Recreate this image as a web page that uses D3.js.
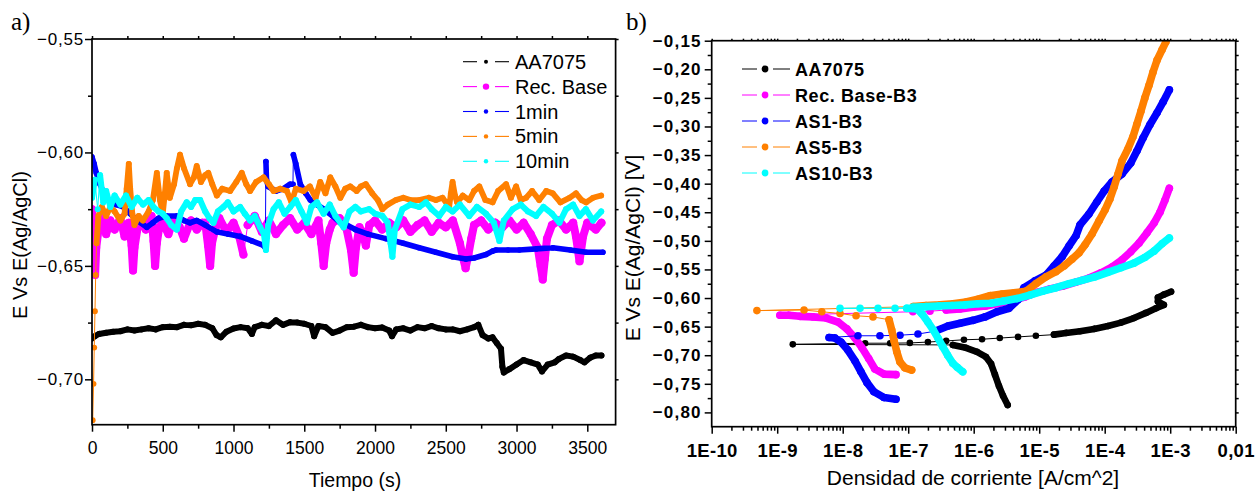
<!DOCTYPE html>
<html>
<head>
<meta charset="utf-8">
<title>OCP y curvas de polarización</title>
<script src="https://d3js.org/d3.v7.min.js"></script>
<style>
  body {margin: 0; background: #fff;}
</style>
</head>
<body>
<script>
// a) potencial vs tiempo : [t (s), E (V)]
var ocpAA7075 = [[0,-0.682],[20,-0.681],[50,-0.680],[100,-0.6795],[150,-0.679],[200,-0.6788],[250,-0.678],[300,-0.6785],[350,-0.678],[400,-0.6775],[450,-0.678],[500,-0.677],[550,-0.6768],[600,-0.677],[650,-0.676],[700,-0.6762],[750,-0.6755],[800,-0.676],[850,-0.6775],[880,-0.6805],[910,-0.6815],[950,-0.679],[1000,-0.6776],[1050,-0.677],[1100,-0.6775],[1130,-0.680],[1150,-0.677],[1200,-0.676],[1250,-0.6765],[1300,-0.674],[1350,-0.676],[1400,-0.6748],[1450,-0.675],[1500,-0.6755],[1550,-0.6765],[1570,-0.681],[1600,-0.6765],[1650,-0.677],[1700,-0.6795],[1750,-0.6785],[1800,-0.677],[1850,-0.6768],[1900,-0.676],[1950,-0.677],[2000,-0.6775],[2050,-0.6772],[2100,-0.6785],[2120,-0.681],[2150,-0.678],[2200,-0.6775],[2250,-0.6785],[2300,-0.677],[2350,-0.6775],[2400,-0.6765],[2450,-0.6775],[2500,-0.678],[2550,-0.678],[2600,-0.6788],[2650,-0.678],[2700,-0.677],[2730,-0.676],[2760,-0.6805],[2800,-0.682],[2830,-0.6815],[2860,-0.684],[2890,-0.6865],[2900,-0.6945],[2910,-0.697],[2950,-0.6955],[3000,-0.6935],[3050,-0.6915],[3100,-0.6925],[3150,-0.6935],[3180,-0.6965],[3220,-0.6935],[3270,-0.6925],[3300,-0.691],[3350,-0.6895],[3400,-0.690],[3450,-0.6915],[3480,-0.6925],[3520,-0.6905],[3560,-0.6895],[3600,-0.6895]];
var ocpRecBase = [[0,-0.625],[8,-0.636],[15,-0.646],[22,-0.654],[30,-0.642],[50,-0.632],[80,-0.628],[100,-0.636],[130,-0.630],[160,-0.634],[200,-0.629],[230,-0.637],[260,-0.631],[280,-0.641],[290,-0.652],[300,-0.642],[320,-0.634],[350,-0.630],[380,-0.634],[420,-0.628],[435,-0.639],[446,-0.650],[458,-0.640],[475,-0.633],[500,-0.631],[540,-0.636],[580,-0.629],[620,-0.633],[650,-0.638],[700,-0.630],[740,-0.634],[780,-0.631],[800,-0.631],[820,-0.641],[835,-0.650],[848,-0.640],[870,-0.634],[900,-0.629],[950,-0.635],[1000,-0.631],[1040,-0.637],[1070,-0.645],[1100,-0.632],[1150,-0.628],[1200,-0.635],[1250,-0.630],[1300,-0.636],[1350,-0.632],[1400,-0.629],[1450,-0.634],[1500,-0.631],[1550,-0.636],[1600,-0.630],[1620,-0.640],[1637,-0.650],[1655,-0.640],[1680,-0.634],[1700,-0.631],[1750,-0.629],[1800,-0.634],[1830,-0.643],[1849,-0.653],[1865,-0.642],[1890,-0.633],[1910,-0.635],[1935,-0.641],[1960,-0.632],[2000,-0.630],[2050,-0.634],[2100,-0.631],[2150,-0.633],[2200,-0.630],[2250,-0.635],[2300,-0.632],[2350,-0.630],[2400,-0.635],[2450,-0.631],[2500,-0.633],[2550,-0.630],[2600,-0.640],[2620,-0.646],[2640,-0.651],[2660,-0.645],[2680,-0.638],[2700,-0.632],[2750,-0.630],[2800,-0.634],[2850,-0.631],[2900,-0.633],[2950,-0.630],[3000,-0.634],[3050,-0.631],[3100,-0.636],[3150,-0.642],[3170,-0.650],[3185,-0.656],[3200,-0.647],[3215,-0.638],[3250,-0.632],[3300,-0.630],[3350,-0.634],[3400,-0.631],[3420,-0.637],[3445,-0.648],[3470,-0.637],[3500,-0.631],[3560,-0.634],[3600,-0.631]];
var ocp1min = [[0,-0.602],[15,-0.605],[30,-0.609],[57,-0.614],[90,-0.619],[127,-0.622],[170,-0.623],[222,-0.624],[270,-0.627],[320,-0.630],[387,-0.633],[430,-0.631],[470,-0.629],[528,-0.628],[599,-0.628],[650,-0.630],[693,-0.631],[740,-0.630],[800,-0.632],[882,-0.635],[960,-0.636],[1047,-0.637],[1130,-0.639],[1212,-0.641],[1225,-0.642],[1229,-0.604],[1233,-0.612],[1245,-0.615],[1300,-0.617],[1350,-0.616],[1400,-0.614],[1420,-0.614],[1423,-0.601],[1440,-0.605],[1472,-0.614],[1510,-0.618],[1543,-0.621],[1590,-0.623],[1637,-0.625],[1700,-0.628],[1755,-0.631],[1800,-0.632],[1861,-0.634],[1950,-0.636],[2076,-0.638],[2200,-0.640],[2312,-0.642],[2430,-0.644],[2548,-0.646],[2642,-0.647],[2700,-0.6465],[2784,-0.645],[2830,-0.6435],[2855,-0.643],[2940,-0.643],[3020,-0.643],[3140,-0.6425],[3256,-0.642],[3380,-0.643],[3492,-0.644],[3610,-0.644]];
var ocp5min = [[5,-0.718],[11,-0.702],[16,-0.686],[21,-0.670],[26,-0.654],[32,-0.640],[45,-0.628],[70,-0.624],[100,-0.628],[130,-0.624],[160,-0.626],[200,-0.630],[230,-0.627],[245,-0.616],[260,-0.605],[270,-0.616],[285,-0.627],[300,-0.632],[330,-0.628],[360,-0.630],[400,-0.626],[430,-0.621],[458,-0.609],[480,-0.621],[500,-0.627],[515,-0.618],[528,-0.609],[550,-0.620],[580,-0.614],[600,-0.607],[622,-0.601],[650,-0.607],[693,-0.614],[720,-0.611],[740,-0.606],[770,-0.613],[800,-0.610],[822,-0.609],[850,-0.614],[882,-0.619],[920,-0.616],[976,-0.617],[1020,-0.613],[1058,-0.609],[1090,-0.614],[1117,-0.617],[1160,-0.613],[1212,-0.611],[1250,-0.614],[1283,-0.617],[1330,-0.616],[1377,-0.617],[1410,-0.622],[1440,-0.616],[1495,-0.617],[1540,-0.615],[1580,-0.620],[1613,-0.613],[1650,-0.618],[1684,-0.611],[1720,-0.615],[1755,-0.620],[1790,-0.616],[1825,-0.615],[1870,-0.617],[1900,-0.615],[1935,-0.614],[1980,-0.618],[2020,-0.621],[2052,-0.625],[2090,-0.623],[2147,-0.621],[2200,-0.620],[2250,-0.621],[2312,-0.621],[2380,-0.620],[2430,-0.621],[2477,-0.620],[2524,-0.624],[2536,-0.618],[2548,-0.613],[2565,-0.619],[2580,-0.622],[2620,-0.619],[2666,-0.621],[2700,-0.617],[2737,-0.615],[2780,-0.621],[2831,-0.622],[2870,-0.617],[2926,-0.614],[2960,-0.620],[2997,-0.615],[3030,-0.621],[3067,-0.620],[3110,-0.617],[3160,-0.621],[3210,-0.617],[3256,-0.618],[3310,-0.622],[3374,-0.620],[3420,-0.618],[3460,-0.621],[3492,-0.622],[3540,-0.620],[3598,-0.619]];
var ocp10min = [[0,-0.620],[20,-0.612],[40,-0.625],[57,-0.610],[80,-0.622],[100,-0.617],[130,-0.624],[160,-0.619],[200,-0.623],[240,-0.619],[280,-0.624],[320,-0.620],[360,-0.623],[400,-0.621],[434,-0.624],[470,-0.626],[500,-0.627],[528,-0.629],[560,-0.632],[599,-0.634],[630,-0.626],[669,-0.622],[700,-0.624],[730,-0.621],[764,-0.621],[800,-0.626],[830,-0.629],[858,-0.631],[890,-0.626],[929,-0.624],[960,-0.622],[1000,-0.626],[1047,-0.624],[1080,-0.627],[1117,-0.630],[1150,-0.628],[1188,-0.633],[1215,-0.636],[1229,-0.643],[1245,-0.632],[1283,-0.625],[1320,-0.622],[1360,-0.627],[1401,-0.624],[1440,-0.621],[1480,-0.626],[1519,-0.631],[1550,-0.624],[1590,-0.622],[1637,-0.627],[1680,-0.623],[1720,-0.628],[1778,-0.633],[1820,-0.626],[1861,-0.624],[1900,-0.626],[1958,-0.625],[2000,-0.627],[2052,-0.628],[2090,-0.631],[2110,-0.640],[2123,-0.646],[2140,-0.634],[2194,-0.625],[2250,-0.623],[2312,-0.624],[2360,-0.622],[2400,-0.625],[2454,-0.628],[2500,-0.624],[2548,-0.626],[2600,-0.623],[2666,-0.628],[2720,-0.624],[2784,-0.627],[2840,-0.631],[2879,-0.639],[2910,-0.630],[2973,-0.625],[3030,-0.623],[3080,-0.626],[3138,-0.628],[3190,-0.624],[3250,-0.627],[3303,-0.631],[3350,-0.625],[3400,-0.623],[3445,-0.628],[3490,-0.625],[3540,-0.630],[3598,-0.626]];

// b) curvas de polarización : [i (A/cm^2), E (V)]
var polAA7075 = [[3.3e-6,-0.787],[2.8e-6,-0.771],[2.43e-6,-0.754],[2.11e-6,-0.734],[1.84e-6,-0.715],[1.54e-6,-0.703],[1.12e-6,-0.694],[7.6e-7,-0.687],[4.8e-7,-0.682],[1.73e-9,-0.681],[2.2e-8,-0.679],[5.3e-8,-0.679],[1.06e-7,-0.6785],[2.0e-7,-0.677],[3.8e-7,-0.675],[7.1e-7,-0.673],[1.34e-6,-0.672],[2.5e-6,-0.670],[4.75e-6,-0.668],[8.9e-6,-0.666],[1.68e-5,-0.664],[2.57e-5,-0.661],[4.2e-5,-0.658],[6.9e-5,-0.654],[1.12e-4,-0.649],[1.77e-4,-0.643],[2.8e-4,-0.635],[4.27e-4,-0.626],[6.07e-4,-0.618],[8.0e-4,-0.612],[6.5e-4,-0.606],[6.5e-4,-0.599],[8.0e-4,-0.594],[1.03e-3,-0.589]];
var polRecBase = [[6.5e-8,-0.734],[4.27e-8,-0.733],[3.1e-8,-0.724],[2.5e-8,-0.706],[1.97e-8,-0.687],[1.54e-8,-0.670],[1.16e-8,-0.654],[8.5e-9,-0.642],[5.6e-9,-0.635],[3.5e-9,-0.633],[2.23e-9,-0.632],[1.51e-9,-0.630],[1.1e-9,-0.630],[1.18e-7,-0.624],[2.15e-7,-0.623],[3.8e-7,-0.621],[6.2e-7,-0.619],[9.8e-7,-0.616],[1.54e-6,-0.614],[2.43e-6,-0.609],[3.85e-6,-0.605],[6.07e-6,-0.598],[9.25e-6,-0.590],[1.46e-5,-0.584],[2.31e-5,-0.579],[3.65e-5,-0.572],[5.75e-5,-0.565],[8.8e-5,-0.556],[1.29e-4,-0.546],[1.84e-4,-0.533],[2.5e-4,-0.519],[3.34e-4,-0.504],[4.42e-4,-0.486],[5.66e-4,-0.469],[6.98e-4,-0.450],[8.3e-4,-0.429],[9.7e-4,-0.408]];
var polAS1 = [[6.5e-8,-0.777],[4.27e-8,-0.774],[3.0e-8,-0.764],[2.35e-8,-0.748],[1.9e-8,-0.729],[1.54e-8,-0.710],[1.2e-8,-0.691],[9.4e-9,-0.677],[7.6e-9,-0.670],[6.2e-9,-0.669],[1.71e-8,-0.666],[3.7e-8,-0.666],[7.5e-8,-0.665],[1.41e-7,-0.663],[2.57e-7,-0.658],[4.05e-7,-0.649],[6.2e-7,-0.644],[9.8e-7,-0.639],[1.49e-6,-0.633],[2.27e-6,-0.624],[3.46e-6,-0.618],[4.75e-6,-0.603],[5.86e-6,-0.582],[8.6e-6,-0.570],[1.27e-5,-0.560],[1.68e-5,-0.544],[2.23e-5,-0.528],[2.85e-5,-0.509],[3.65e-5,-0.491],[4.2e-5,-0.472],[5.75e-5,-0.453],[7.6e-5,-0.432],[9.8e-5,-0.413],[1.29e-4,-0.397],[1.84e-4,-0.383],[2.5e-4,-0.364],[3.1e-4,-0.343],[3.85e-4,-0.320],[4.9e-4,-0.297],[6.3e-4,-0.276],[7.8e-4,-0.257],[9.7e-4,-0.236]];
var polAS5 = [[1.13e-7,-0.726],[8.9e-8,-0.722],[7.5e-8,-0.712],[6.7e-8,-0.694],[6.1e-8,-0.675],[5.6e-8,-0.656],[5.1e-8,-0.638],[2.9e-8,-0.633],[1.6e-8,-0.631],[9.1e-9,-0.627],[4.8e-9,-0.624],[2.57e-9,-0.621],[4.9e-10,-0.622],[1.2e-7,-0.615],[1.87e-7,-0.613],[3.06e-7,-0.612],[4.8e-7,-0.610],[7.6e-7,-0.607],[1.16e-6,-0.602],[1.77e-6,-0.596],[2.7e-6,-0.593],[4.1e-6,-0.591],[6.3e-6,-0.588],[8.9e-6,-0.575],[1.27e-5,-0.563],[1.8e-5,-0.554],[2.39e-5,-0.544],[3.17e-5,-0.532],[4.05e-5,-0.521],[5.0e-5,-0.507],[6.4e-5,-0.488],[8.2e-5,-0.465],[1.01e-4,-0.446],[1.2e-4,-0.427],[1.39e-4,-0.406],[1.6e-4,-0.383],[1.84e-4,-0.360],[2.27e-4,-0.339],[2.7e-4,-0.318],[3.1e-4,-0.296],[3.58e-4,-0.273],[4.1e-4,-0.250],[4.75e-4,-0.228],[5.46e-4,-0.205],[6.3e-4,-0.184],[7.5e-4,-0.166],[8.6e-4,-0.152]];
var polAS10 = [[6.8e-7,-0.729],[5.6e-7,-0.721],[4.8e-7,-0.714],[4.0e-7,-0.700],[3.36e-7,-0.685],[2.85e-7,-0.670],[2.42e-7,-0.656],[2.0e-7,-0.642],[1.63e-7,-0.628],[1.36e-7,-0.619],[9.5e-8,-0.618],[9.1e-9,-0.618],[1.84e-8,-0.618],[3.46e-8,-0.618],[6.3e-8,-0.618],[1.18e-7,-0.616],[1.87e-7,-0.615],[2.95e-7,-0.614],[4.67e-7,-0.613],[7.4e-7,-0.612],[1.16e-6,-0.610],[1.84e-6,-0.609],[2.9e-6,-0.605],[4.58e-6,-0.601],[7.2e-6,-0.595],[1.14e-5,-0.588],[1.8e-5,-0.582],[2.85e-5,-0.575],[4.5e-5,-0.569],[7.1e-5,-0.563],[1.12e-4,-0.555],[1.77e-4,-0.547],[2.8e-4,-0.539],[4.1e-4,-0.529],[5.66e-4,-0.518],[7.5e-4,-0.505],[9.7e-4,-0.495]];

var namesA = ["AA7075", "Rec. Base", "1min", "5min", "10min"];
var namesB = ["AA7075", "Rec. Base-B3", "AS1-B3", "AS5-B3", "AS10-B3"];
var colors = ["#000000", "#ff00ff", "#0000ff", "#ff8000", "#00ffff"];

var ticksTime = [0, 500, 1000, 1500, 2000, 2500, 3000, 3500];
var ticksTimeMinor = [250, 750, 1250, 1750, 2250, 2750, 3250];
var ticksEa = [-0.70, -0.65, -0.60, -0.55];
var ticksEaMinor = [-0.675, -0.625, -0.575];
var ticksI = [1e-10, 1e-9, 1e-8, 1e-7, 1e-6, 1e-5, 1e-4, 1e-3, 1e-2];
var labelsI = ["1E-10", "1E-9", "1E-8", "1E-7", "1E-6", "1E-5", "1E-4", "1E-3", "0,01"];
var ticksEb = [-0.80, -0.75, -0.70, -0.65, -0.60, -0.55, -0.50, -0.45, -0.40, -0.35, -0.30, -0.25, -0.20, -0.15];
var ticksEbMinor = [-0.775, -0.725, -0.675, -0.625, -0.575, -0.525, -0.475, -0.425, -0.375, -0.325, -0.275, -0.225, -0.175];

var sans = "'Liberation Sans', Arial, sans-serif";
var serif = "'Liberation Serif', 'Times New Roman', serif";

var svg = d3.select("body").append("svg")
    .attr("width", 1256)
    .attr("height", 493)
    .attr("font-family", sans);

var fmtE = function(d) { return d.toFixed(2).replace(".", ",").replace("-", "\u2212"); };

// dibuja una serie: tramos densos como trazo grueso, saltos como línea fina
function drawSeries(g, pts, xs, ys, color, r, gap) {
    var thick = "", thin = "";
    for (var k = 1; k < pts.length; k++) {
        var x0 = xs(pts[k-1][0]), y0 = ys(pts[k-1][1]);
        var x1 = xs(pts[k][0]), y1 = ys(pts[k][1]);
        var seg = "M" + x0 + "," + y0 + "L" + x1 + "," + y1;
        if (Math.hypot(x1 - x0, y1 - y0) < gap) thick += seg; else thin += seg;
    }
    g.append("path").attr("d", thin).attr("fill", "none")
        .attr("stroke", color).attr("stroke-width", 1);
    g.append("path").attr("d", thick).attr("fill", "none")
        .attr("stroke", color).attr("stroke-width", 2 * r)
        .attr("stroke-linecap", "round").attr("stroke-linejoin", "round");
    g.selectAll(null).data(pts).enter().append("circle")
        .attr("cx", function(d) { return xs(d[0]); })
        .attr("cy", function(d) { return ys(d[1]); })
        .attr("r", r)
        .attr("fill", color);
}

function axisStyle(sel, size, weight, spacing) {
    sel.attr("font-family", sans).attr("font-size", size);
    sel.select(".domain").remove();
    sel.selectAll(".tick line").attr("stroke", "#000").attr("stroke-width", 1.5);
    sel.selectAll(".tick text").attr("fill", "#000")
        .attr("font-weight", weight).attr("letter-spacing", spacing);
}

function frame(x0, y0, x1, y1) {
    svg.append("rect")
        .attr("x", x0).attr("y", y0)
        .attr("width", x1 - x0).attr("height", y1 - y0)
        .attr("fill", "none").attr("stroke", "#000").attr("stroke-width", 1.7);
}

// ---------------- a) ----------------
var xa = d3.scaleLinear().domain([0, 3700]).range([92, 615.6]);
var ya = d3.scaleLinear().domain([-0.72, -0.55]).range([424.7, 39]);

svg.append("clipPath").attr("id", "clipA").append("rect")
    .attr("x", 92).attr("y", 39).attr("width", 523.6).attr("height", 385.7);

var seriesA = [ocpAA7075, ocpRecBase, ocp1min, ocp5min, ocp10min];
var radiusA = [3.0, 4.0, 2.8, 2.9, 3.0];
var plotA = svg.append("g").attr("clip-path", "url(#clipA)");
seriesA.forEach(function(s, i) {
    drawSeries(plotA.append("g"), s, xa, ya, colors[i], radiusA[i], 28);
});

svg.append("g").attr("transform", "translate(0,424.7)")
    .call(d3.axisBottom(xa).tickValues(ticksTime).tickSize(7).tickPadding(10)
        .tickFormat(d3.format("d")).tickSizeOuter(0))
    .call(axisStyle, 17.5, "normal", 0);
svg.append("g").attr("transform", "translate(0,424.7)")
    .call(d3.axisBottom(xa).tickValues(ticksTimeMinor).tickSize(4).tickFormat("").tickSizeOuter(0))
    .call(axisStyle, 10, "normal", 0);
svg.append("g").attr("transform", "translate(92,0)")
    .call(d3.axisLeft(ya).tickValues(ticksEa).tickSize(7).tickPadding(1).tickFormat(fmtE).tickSizeOuter(0))
    .call(axisStyle, 17, "normal", 0.8);
svg.append("g").attr("transform", "translate(92,0)")
    .call(d3.axisLeft(ya).tickValues(ticksEaMinor).tickSize(4).tickFormat("").tickSizeOuter(0))
    .call(axisStyle, 10, "normal", 0);
svg.append("g").attr("transform", "translate(0,39)")
    .call(d3.axisTop(xa).tickValues(ticksTime.concat(ticksTimeMinor)).tickSize(3).tickFormat("").tickSizeOuter(0))
    .call(axisStyle, 10, "normal", 0);
svg.append("g").attr("transform", "translate(615.6,0)")
    .call(d3.axisRight(ya).tickValues(ticksEa.concat(ticksEaMinor)).tickSize(3).tickFormat("").tickSizeOuter(0))
    .call(axisStyle, 10, "normal", 0);
frame(92, 39, 615.6, 424.7);

svg.append("text").attr("x", 355).attr("y", 487)
    .attr("text-anchor", "middle").attr("font-size", 19.5).text("Tiempo (s)");
svg.append("text").attr("transform", "translate(27,245) rotate(-90)")
    .attr("text-anchor", "middle").attr("font-size", 20).text("E Vs E(Ag/AgCl)");
svg.append("text").attr("x", 11).attr("y", 30)
    .attr("font-family", serif).attr("font-size", 25).text("a)");

var legA = svg.append("g");
var legARadius = [2, 3.2, 2.2, 2.2, 2.2];
namesA.forEach(function(n, i) {
    var cy = 61.7 + i * 24.9;
    legA.append("line").attr("x1", 463).attr("x2", 477).attr("y1", cy).attr("y2", cy)
        .attr("stroke", colors[i]).attr("stroke-width", 1.1);
    legA.append("line").attr("x1", 495).attr("x2", 509).attr("y1", cy).attr("y2", cy)
        .attr("stroke", colors[i]).attr("stroke-width", 1.1);
    legA.append("circle").attr("cx", 486).attr("cy", cy).attr("r", legARadius[i]).attr("fill", colors[i]);
    legA.append("text").attr("x", 515).attr("y", cy + 7).attr("font-size", 20).text(n);
});

// ---------------- b) ----------------
var xb = d3.scaleLog().domain([1e-10, 1e-2]).range([711.7, 1235.7]);
var yb = d3.scaleLinear().domain([-0.825, -0.15]).range([426.7, 40.7]);

svg.append("clipPath").attr("id", "clipB").append("rect")
    .attr("x", 711.7).attr("y", 40.7).attr("width", 524).attr("height", 386);

var seriesB = [polAA7075, polRecBase, polAS1, polAS5, polAS10];
var plotB = svg.append("g").attr("clip-path", "url(#clipB)");
seriesB.forEach(function(s, i) {
    drawSeries(plotB.append("g"), s, xb, yb, colors[i], i === 0 ? 3.3 : 3.8, 16);
});

var minorI = [];
ticksI.slice(0, -1).forEach(function(t) {
    [2, 3, 4, 5, 6, 7, 8, 9].forEach(function(m) { minorI.push(t * m); });
});

svg.append("g").attr("transform", "translate(0,426.7)")
    .call(d3.axisBottom(xb).tickValues(ticksI).tickSize(7).tickPadding(10)
        .tickFormat(function(d, i) { return labelsI[i]; }).tickSizeOuter(0))
    .call(axisStyle, 18.5, "bold", 0.3);
svg.append("g").attr("transform", "translate(0,426.7)")
    .call(d3.axisBottom(xb).tickValues(minorI).tickSize(4).tickFormat("").tickSizeOuter(0))
    .call(axisStyle, 10, "normal", 0);
svg.append("g").attr("transform", "translate(711.7,0)")
    .call(d3.axisLeft(yb).tickValues(ticksEb).tickSize(7).tickPadding(3).tickFormat(fmtE).tickSizeOuter(0))
    .call(axisStyle, 17, "bold", 1.2);
svg.append("g").attr("transform", "translate(711.7,0)")
    .call(d3.axisLeft(yb).tickValues(ticksEbMinor).tickSize(4).tickFormat("").tickSizeOuter(0))
    .call(axisStyle, 10, "normal", 0);
svg.append("g").attr("transform", "translate(0,40.7)")
    .call(d3.axisTop(xb).tickValues(ticksI.concat(minorI)).tickSize(2).tickFormat("").tickSizeOuter(0))
    .call(axisStyle, 10, "normal", 0);
svg.append("g").attr("transform", "translate(1235.7,0)")
    .call(d3.axisRight(yb).tickValues(ticksEb.concat(ticksEbMinor)).tickSize(3).tickFormat("").tickSizeOuter(0))
    .call(axisStyle, 10, "normal", 0);
frame(711.7, 40.7, 1235.7, 426.7);

svg.append("text").attr("x", 973).attr("y", 485)
    .attr("text-anchor", "middle").attr("font-size", 21).text("Densidad de corriente [A/cm^2]");
svg.append("text").attr("transform", "translate(640,248) rotate(-90)")
    .attr("text-anchor", "middle").attr("font-size", 21).text("E Vs E(Ag/AgCl) [V]");
svg.append("text").attr("x", 626).attr("y", 30)
    .attr("font-family", serif).attr("font-size", 25).text("b)");

var legB = svg.append("g");
namesB.forEach(function(n, i) {
    var cy = 69 + i * 26;
    legB.append("line").attr("x1", 742).attr("x2", 757).attr("y1", cy).attr("y2", cy)
        .attr("stroke", colors[i]).attr("stroke-width", 1);
    legB.append("line").attr("x1", 773).attr("x2", 790).attr("y1", cy).attr("y2", cy)
        .attr("stroke", colors[i]).attr("stroke-width", 1);
    legB.append("circle").attr("cx", 765).attr("cy", cy).attr("r", 3.4).attr("fill", colors[i]);
    legB.append("text").attr("x", 795).attr("y", cy + 6.5).attr("font-size", 18)
        .attr("font-weight", "bold").attr("letter-spacing", 0.6).text(n);
});
</script>
</body>
</html>
